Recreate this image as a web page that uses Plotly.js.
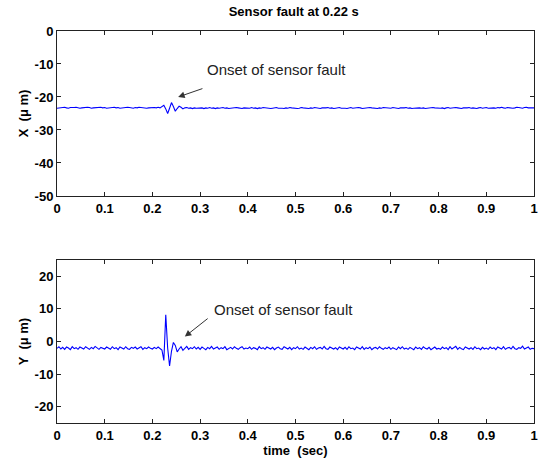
<!DOCTYPE html>
<html>
<head>
<meta charset="utf-8">
<script src="https://cdn.plot.ly/plotly-3.0.1.min.js"></script>
<style>html,body{margin:0;padding:0;background:#fff;}#chart{width:538px;height:458px;}</style>
</head>
<body>
<div id="chart"></div>
<script>
// time grid: starts at 0 s, step 0.004 s (251 samples to 1 s)
const tStart = 0;
const tStep = 0.004;

// X displacement (um)
const xSignal = [
-23.4,-23.3,-23.2,-23.3,-23.1,-23.3,-23.4,-23.2,-23.3,-23.2,-23.1,-23.3,-23.4,-23.3,-23.2,-23.3,-23.1,-23.2,-23.4,-23.3,-23.2,-23.3,-23.2,-23.1,-23.3,
-23.2,-23.4,-23.3,-23.2,-23.3,-23.1,-23.3,-23.2,-23.4,-23.3,-23.2,-23.3,-23.1,-23.2,-23.3,-23.4,-23.2,-23.3,-23.1,-23.2,-23.3,-23.2,-23.4,-23.3,-23.2,
-23.3,-23.2,-23.3,-23.1,-23.3,-23.0,-22.5,-23.6,-25.0,-23.4,-21.7,-22.9,-24.3,-23.5,-22.8,-23.1,-23.6,-23.3,-23.2,-23.4,-23.3,-23.5,-23.3,-23.4,-23.3,
-23.4,-23.3,-23.5,-23.3,-23.4,-23.2,-23.4,-23.3,-23.5,-23.3,-23.4,-23.3,-23.2,-23.4,-23.3,-23.5,-23.4,-23.3,-23.4,-23.2,-23.3,-23.4,-23.5,-23.3,-23.4,
-23.3,-23.4,-23.2,-23.4,-23.3,-23.5,-23.3,-23.4,-23.2,-23.3,-23.4,-23.3,-23.5,-23.4,-23.3,-23.2,-23.4,-23.3,-23.4,-23.5,-23.3,-23.4,-23.2,-23.3,-23.4,
-23.3,-23.5,-23.4,-23.2,-23.3,-23.4,-23.3,-23.5,-23.3,-23.4,-23.2,-23.3,-23.4,-23.5,-23.3,-23.4,-23.3,-23.2,-23.4,-23.3,-23.5,-23.4,-23.3,-23.2,-23.4,
-23.3,-23.4,-23.5,-23.3,-23.2,-23.4,-23.3,-23.4,-23.2,-23.3,-23.5,-23.4,-23.3,-23.4,-23.2,-23.3,-23.4,-23.3,-23.5,-23.3,-23.4,-23.2,-23.3,-23.4,-23.3,
-23.4,-23.2,-23.3,-23.4,-23.5,-23.3,-23.4,-23.3,-23.2,-23.4,-23.3,-23.5,-23.4,-23.3,-23.2,-23.3,-23.4,-23.3,-23.5,-23.4,-23.3,-23.4,-23.2,-23.3,-23.4,
-23.3,-23.4,-23.3,-23.5,-23.3,-23.2,-23.4,-23.3,-23.4,-23.2,-23.3,-23.4,-23.5,-23.3,-23.4,-23.3,-23.2,-23.4,-23.3,-23.4,-23.5,-23.3,-23.2,-23.4,-23.3,
-23.2,-23.4,-23.3,-23.2,-23.3,-23.4,-23.2,-23.3,-23.1,-23.3,-23.4,-23.2,-23.3,-23.2,-23.4,-23.3,-23.1,-23.2,-23.3,-23.4,-23.2,-23.1,-23.3,-23.2,-23.3,
-23.3
];

// Y displacement (um)
const ySignal = [
-2.1,-1.6,-2.3,-1.8,-2.4,-1.7,-2.0,-2.5,-1.6,-2.2,-1.9,-2.4,-1.7,-2.1,-2.3,-1.6,-2.0,-2.4,-1.8,-2.2,-1.5,-2.1,-2.4,-1.8,-2.0,
-2.3,-1.7,-2.1,-2.4,-1.6,-2.2,-1.9,-2.5,-1.7,-2.0,-2.3,-1.6,-2.2,-2.4,-1.8,-2.1,-1.7,-2.3,-2.0,-1.6,-2.4,-1.9,-2.2,-1.7,-2.1,
-2.3,-1.8,-2.2,-1.7,-2.1,-2.6,-5.8,8.2,-2.0,-7.5,-3.0,-0.3,-1.2,-3.2,-2.3,-1.6,-2.7,-2.0,-1.5,-2.4,-1.9,-2.2,-1.6,-2.3,-1.8,
-2.4,-1.7,-2.1,-2.5,-1.8,-2.2,-1.5,-2.3,-2.0,-1.7,-2.4,-1.9,-2.2,-1.6,-2.5,-2.0,-1.8,-2.3,-1.6,-2.1,-2.4,-1.9,-1.6,-2.3,-2.0,
-2.2,-1.7,-2.4,-1.9,-2.1,-2.5,-1.6,-2.2,-1.9,-2.4,-1.7,-2.1,-2.3,-1.8,-2.5,-2.0,-1.7,-2.2,-2.4,-1.6,-2.1,-2.3,-1.8,-2.5,-1.9,
-2.2,-1.6,-2.3,-2.0,-2.4,-1.7,-2.1,-2.5,-1.8,-2.2,-1.6,-2.4,-2.0,-1.8,-2.3,-1.5,-2.2,-2.4,-1.7,-2.1,-2.3,-1.9,-2.5,-1.7,-2.0,
-2.3,-1.8,-2.4,-1.6,-2.2,-2.0,-2.5,-1.7,-2.1,-2.3,-1.6,-2.4,-1.9,-2.2,-1.7,-2.5,-2.0,-1.8,-2.3,-1.6,-2.1,-2.4,-1.9,-2.2,-1.7,
-2.4,-1.9,-2.1,-2.5,-1.7,-2.2,-1.6,-2.3,-2.0,-2.4,-1.8,-2.1,-2.5,-1.7,-2.2,-1.9,-2.4,-1.6,-2.1,-2.3,-1.8,-2.5,-2.0,-1.7,-2.3,
-2.1,-2.4,-1.7,-2.2,-1.9,-2.5,-1.6,-2.3,-2.0,-1.5,-2.4,-1.8,-2.2,-2.5,-1.7,-2.1,-2.3,-1.9,-2.4,-1.6,-2.2,-2.0,-2.5,-1.8,-2.3,
-2.0,-2.4,-1.7,-2.2,-1.9,-2.5,-1.7,-2.1,-2.3,-1.6,-2.4,-2.0,-1.8,-2.3,-1.5,-2.2,-2.4,-1.9,-2.1,-1.4,-2.3,-2.0,-1.7,-2.4,-2.1,
-2.2
];

const xTicks = [0,0.1,0.2,0.3,0.4,0.5,0.6,0.7,0.8,0.9,1];
const xTickText = ['0','0.1','0.2','0.3','0.4','0.5','0.6','0.7','0.8','0.9','1'];
const topYTicks = [0,-10,-20,-30,-40,-50];
const topYTickText = ['0','-10','-20','-30','-40','-50'];
const botYTicks = [20,10,0,-10,-20];
const botYTickText = ['20','10','0','-10','-20'];

const titleText = 'Sensor fault at 0.22 s';
const annText = 'Onset of sensor fault';

const FONT = 'Arial, Liberation Sans, sans-serif';
const lineColor = '#222';
const bold = arr => arr.map(s => '<b>' + s + '</b>');

function axisBase(extra){
  return Object.assign({
    showline:true, linecolor:lineColor, linewidth:1, mirror:'ticks',
    ticks:'inside', ticklen:4, tickcolor:lineColor, tickwidth:1,
    showgrid:false, zeroline:false,
    tickfont:{family:FONT, size:13, color:'#000', weight:700}
  }, extra);
}

const traces = [
  {type:'scatter', mode:'lines', x0:tStart, dx:tStep, y:xSignal,
   line:{color:'#0000ff', width:1.1}, xaxis:'x', yaxis:'y', hoverinfo:'skip'},
  {type:'scatter', mode:'lines', x0:tStart, dx:tStep, y:ySignal,
   line:{color:'#0000ff', width:1.1}, xaxis:'x2', yaxis:'y2', hoverinfo:'skip'}
];

const layout = {
  width:538, height:458,
  margin:{l:57, r:4, t:0, b:0},
  paper_bgcolor:'#fff', plot_bgcolor:'#fff',
  showlegend:false,
  font:{family:FONT, color:'#000'},
  title:{text:'<b>'+titleText+'</b>', font:{family:FONT, size:13, color:'#000'},
         x:0.546, xanchor:'center', y:0.974, yanchor:'middle'},
  xaxis: axisBase({domain:[0,1], anchor:'y', range:[0,1], tickvals:xTicks, ticktext:bold(xTickText)}),
  yaxis: axisBase({domain:[0.5721,0.9323], anchor:'x', range:[-50,0], tickvals:topYTicks, ticktext:bold(topYTickText),
    title:{text:'<b>X  (μ m)</b>', font:{family:FONT, size:13, color:'#000'}, standoff:3}}),
  xaxis2: axisBase({domain:[0,1], anchor:'y2', range:[0,1], tickvals:xTicks, ticktext:bold(xTickText),
    title:{text:'<b>time  (sec)</b>', font:{family:FONT, size:13, color:'#000'}, standoff:2}}),
  yaxis2: axisBase({domain:[0.0764,0.4323], anchor:'x2', range:[-25,25], tickvals:botYTicks, ticktext:bold(botYTickText),
    title:{text:'<b>Y  (μ m)</b>', font:{family:FONT, size:13, color:'#000'}, standoff:3}}),
  annotations:[
    {xref:'x', yref:'y', x:0.254, y:-20.0, axref:'x', ayref:'y', ax:0.308, ay:-17.3,
     text:'', showarrow:true, arrowhead:2, arrowsize:1.3, arrowwidth:1, arrowcolor:'#333'},
    {xref:'x', yref:'y', x:0.461, y:-11.8, text:annText, showarrow:false,
     font:{family:FONT, size:15, color:'#222'}},
    {xref:'x2', yref:'y2', x:0.268, y:1.5, axref:'x2', ayref:'y2', ax:0.319, ay:7.4,
     text:'', showarrow:true, arrowhead:2, arrowsize:1.3, arrowwidth:1, arrowcolor:'#333'},
    {xref:'x2', yref:'y2', x:0.475, y:9.7, text:annText, showarrow:false,
     font:{family:FONT, size:15, color:'#222'}}
  ]
};

Plotly.newPlot('chart', traces, layout, {staticPlot:true, displayModeBar:false});
</script>
</body>
</html>
